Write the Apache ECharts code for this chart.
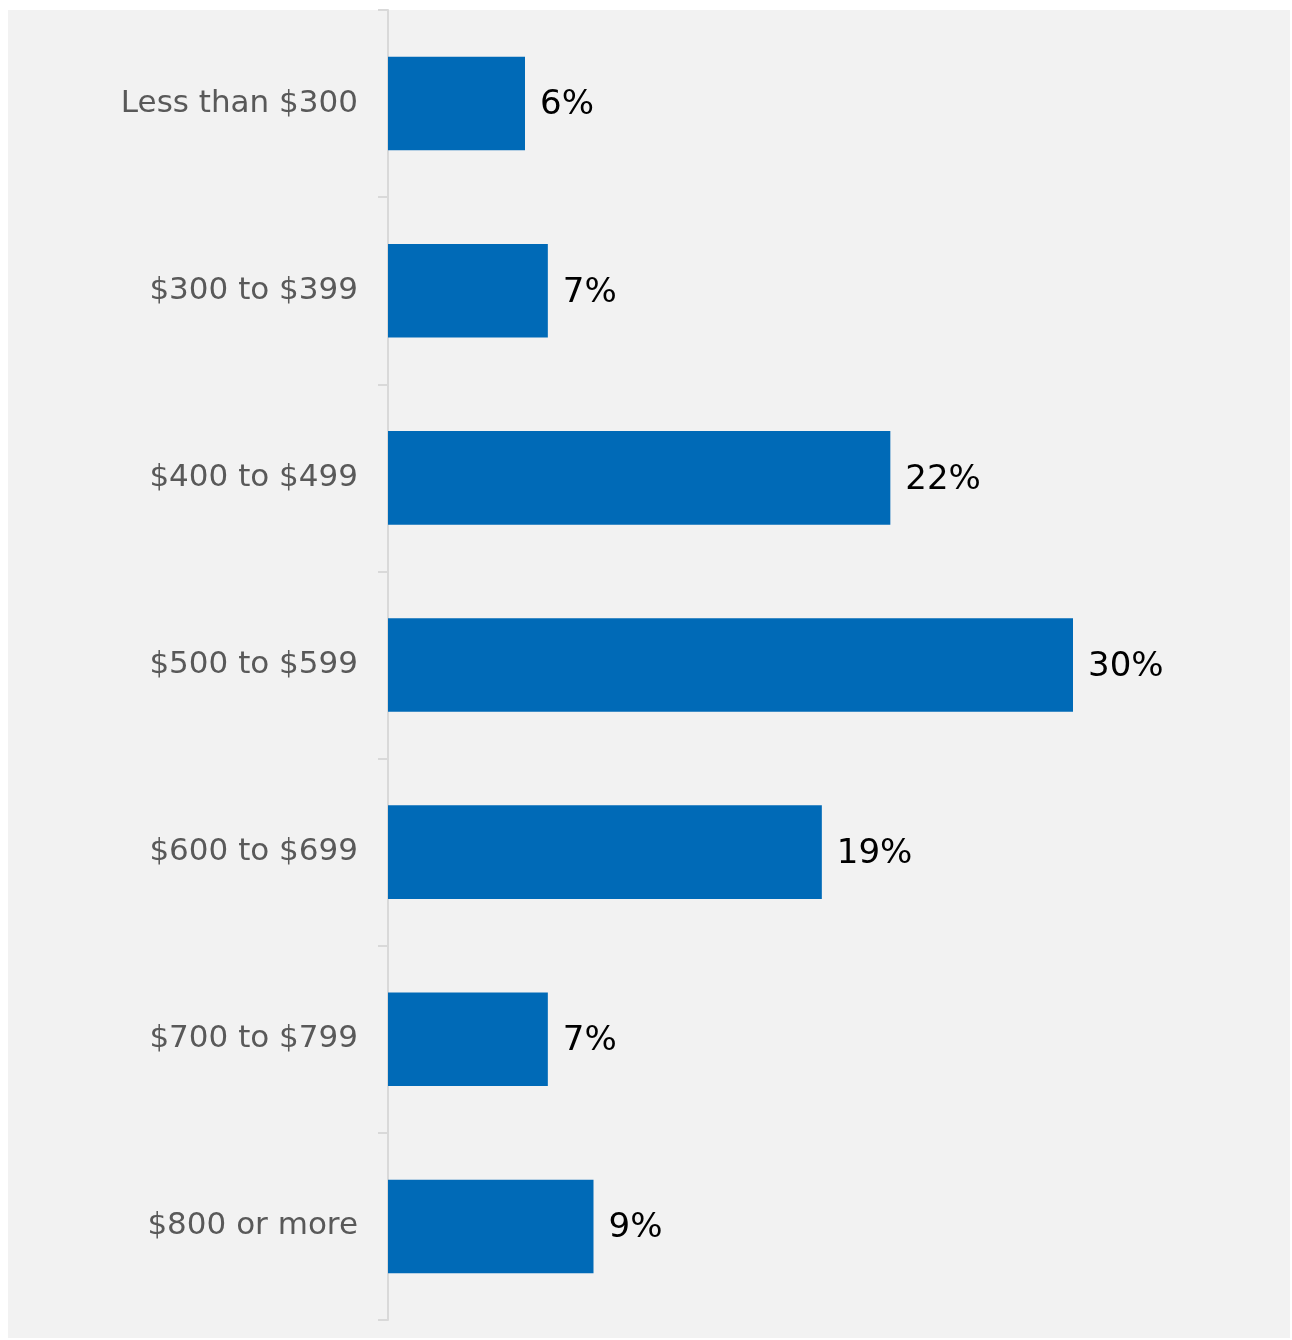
<!DOCTYPE html>
<html>
<head>
<meta charset="utf-8">
<style>
html,body{margin:0;padding:0;background:#fff;}
#chart{width:1292px;height:1340px;}
</style>
<script src="https://cdn.jsdelivr.net/npm/echarts@6/dist/echarts.min.js"></script>
</head>
<body>
<div id="chart"></div>
<script>
const categories = ['Less than $300', '$300 to $399', '$400 to $499', '$500 to $599', '$600 to $699', '$700 to $799', '$800 or more'];
const values = [6, 7, 22, 30, 19, 7, 9];

const chart = echarts.init(document.getElementById('chart'));
chart.setOption({
  backgroundColor: '#ffffff',
  animation: false,
  graphic: [{
    type: 'rect', z: -10, silent: true,
    shape: { x: 8, y: 10, width: 1282, height: 1328 },
    style: { fill: '#f2f2f2' }
  }],
  grid: { left: 388, top: 10, bottom: 20, right: 219, containLabel: false },
  xAxis: {
    type: 'value', min: 0, max: 30,
    show: false
  },
  yAxis: {
    type: 'category',
    data: categories,
    inverse: true,
    axisLine: { show: true, lineStyle: { color: '#d9d9d9', width: 2 } },
    axisTick: { show: true, length: 10, lineStyle: { color: '#d9d9d9', width: 2 } },
    axisLabel: { margin: 30, color: '#595959', fontSize: 31, fontFamily: 'DejaVu Sans' },
    splitLine: { show: false }
  },
  series: [{
    type: 'bar',
    data: values,
    barWidth: '50%',
    itemStyle: { color: '#006ab7' },
    label: {
      show: true, position: 'right', distance: 15,
      formatter: '{c}%', offset: [0, 2],
      color: '#000000', fontSize: 34, fontFamily: 'DejaVu Sans'
    }
  }]
});
</script>
</body>
</html>
